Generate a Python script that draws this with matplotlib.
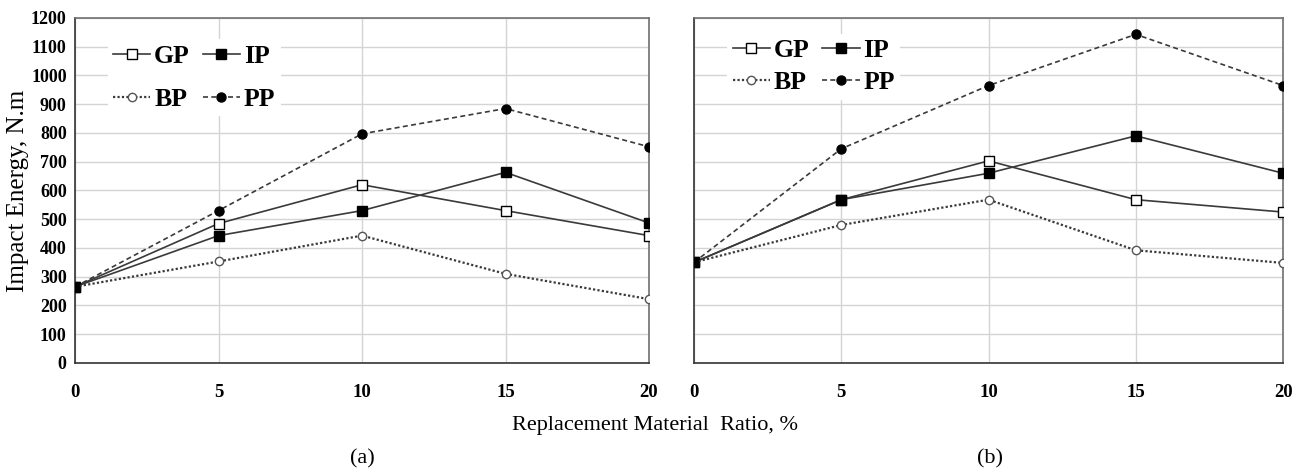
import matplotlib.pyplot as plt

plt.rcParams["font.family"] = ["Liberation Serif", "DejaVu Serif"]

ratio = [0, 5, 10, 15, 20]

# panel (a)
gp_a = [265, 485, 620, 530, 443]
ip_a = [265, 443, 530, 663, 487]
bp_a = [265, 353, 443, 310, 222]
pp_a = [265, 530, 797, 885, 752]

# panel (b)
gp_b = [350, 568, 703, 568, 525]
ip_b = [350, 568, 660, 790, 660]
bp_b = [350, 480, 568, 392, 348]
pp_b = [350, 745, 965, 1143, 965]

line_c = "#3a3a3a"

fig = plt.figure(figsize=(13.09, 4.73), dpi=100)
ax_a = fig.add_axes([0.0573, 0.2326, 0.4385, 0.7294])
ax_b = fig.add_axes([0.5302, 0.2326, 0.4500, 0.7294])


def draw(ax, gp, ip, bp, pp, show_y, leg_x, leg_y, leg_space):
    ax.plot(ratio, gp, color=line_c, lw=1.2, marker="s", ms=6.5,
            mfc="white", mec="black", mew=1.0, label="GP", zorder=3)
    ax.plot(ratio, ip, color=line_c, lw=1.2, marker="s", ms=6.5,
            mfc="black", mec="black", label="IP", zorder=3)
    ax.plot(ratio, bp, color=line_c, lw=1.6, ls=(0, (1, 1)), marker="o", ms=6,
            mfc="white", mec="#555555", mew=1.0, label="BP", zorder=3)
    ax.plot(ratio, pp, color=line_c, lw=1.2, ls=(0, (3, 2)), marker="o", ms=6.5,
            mfc="black", mec="black", label="PP", zorder=3)
    ax.set_xlim(0, 20)
    ax.set_ylim(0, 1200)
    ax.set_xticks(ratio)
    ax.set_yticks(range(0, 1201, 100))
    ax.grid(True, color="#d4d4d4", lw=1.0)
    ax.set_axisbelow(True)
    ax.tick_params(length=0, labelsize=13.5, pad=15, axis="x")
    ax.tick_params(length=0, labelsize=13, pad=6, axis="y")
    for lab in ax.get_xticklabels() + ax.get_yticklabels():
        lab.set_fontweight("bold")
    if not show_y:
        ax.set_yticklabels([])
    for side in ["top", "right"]:
        ax.spines[side].set_color("#707070")
    for side in ["left", "bottom"]:
        ax.spines[side].set_color("#333333")
    for sp in ax.spines.values():
        sp.set_linewidth(1.2)
    h, l = ax.get_legend_handles_labels()
    order = [0, 2, 1, 3]
    leg = ax.legend([h[i] for i in order], [l[i] for i in order], ncol=2,
                    loc="upper left", bbox_to_anchor=(leg_x, leg_y),
                    prop={"weight": "bold", "size": 18.5}, frameon=True,
                    handlelength=1.45, handletextpad=0.15, columnspacing=0.5,
                    labelspacing=leg_space, borderpad=0.2)
    leg.get_frame().set_facecolor("white")
    leg.get_frame().set_edgecolor("none")
    leg.get_frame().set_alpha(1.0)
    leg.set_zorder(5)


draw(ax_a, gp_a, ip_a, bp_a, pp_a, True, 0.035, 0.975, 0.8)
draw(ax_b, gp_b, ip_b, bp_b, pp_b, False, 0.035, 0.99, 0.35)

fig.text(0.014, 0.597, "Impact Energy, N.m", rotation=90, ha="center",
         va="center", fontsize=18)
fig.text(0.5, 0.09, "Replacement Material  Ratio, %", ha="center", fontsize=16)
fig.text(0.277, 0.02, "(a)", ha="center", fontsize=16)
fig.text(0.756, 0.02, "(b)", ha="center", fontsize=16)

fig.savefig("out.png", dpi=100)
